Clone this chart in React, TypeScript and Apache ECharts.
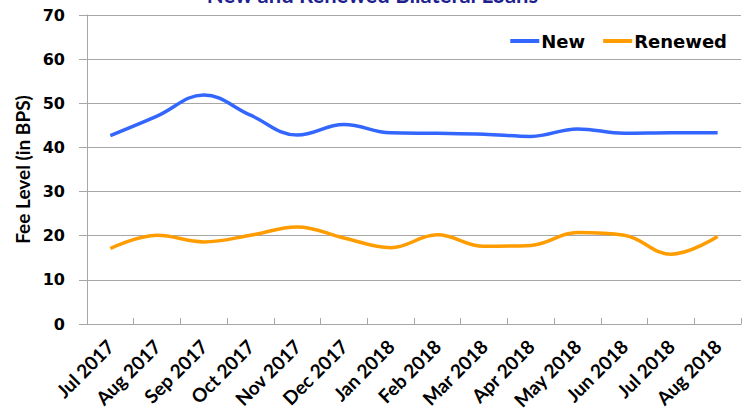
import React, { useEffect, useRef } from "react";
import * as echarts from "echarts";

const categories = [
  "Jul 2017", "Aug 2017", "Sep 2017", "Oct 2017", "Nov 2017", "Dec 2017", "Jan 2018",
  "Feb 2018", "Mar 2018", "Apr 2018", "May 2018", "Jun 2018", "Jul 2018", "Aug 2018",
];
const newFees = [42.7, 47.1, 51.9, 47.3, 42.8, 45.2, 43.3, 43.2, 43.0, 42.5, 44.2, 43.2, 43.3, 43.3];
const renewedFees = [17.1, 20.1, 18.6, 20.1, 22.0, 19.5, 17.3, 20.2, 17.6, 17.8, 20.7, 20.1, 15.8, 19.8];
const titleText = "New and Renewed Bilateral Loans";
const yAxisTitle = "Fee Level (in BPS)";

export default function App() {
  const ref = useRef<HTMLDivElement>(null);
  useEffect(() => {
    if (!ref.current) return;
    const chart = echarts.init(ref.current, null, { renderer: "svg" });
    chart.setOption({
      animation: false,
      backgroundColor: "#ffffff",
      title: {
        text: titleText,
        left: "center",
        top: -22,
        textStyle: { color: "#1f1f8f", fontSize: 22, fontWeight: "bold", fontFamily: "Lato" },
      },
      legend: {
        data: ["New", "Renewed"],
        right: 13,
        top: 27,
        itemWidth: 29,
        itemHeight: 4,
        itemGap: 18,
        icon: "rect",
        textStyle: { color: "#000", fontSize: 18, fontWeight: "bold", fontFamily: "DejaVu Sans", padding: [0, 0, 0, -3] },
      },
      grid: { left: 87, right: 4, top: 15, bottom: 91, containLabel: false },
      xAxis: {
        type: "category",
        data: categories,
        boundaryGap: true,
        axisLine: { lineStyle: { color: "#a6a6a6", width: 1 } },
        axisTick: { show: true, inside: true, length: 6, lineStyle: { color: "#a6a6a6" } },
        axisLabel: {
          rotate: 45,
          interval: 0,
          color: "#000",
          fontSize: 19,
          fontWeight: "bold",
          fontFamily: "Lato",
          margin: 19,
        },
      },
      yAxis: {
        type: "value",
        min: 0,
        max: 70,
        interval: 10,
        name: yAxisTitle,
        nameLocation: "middle",
        nameGap: 55,
        nameTextStyle: { color: "#000", fontSize: 19, fontWeight: "bold", fontFamily: "Lato" },
        axisLine: { show: true, lineStyle: { color: "#a6a6a6" } },
        axisTick: { show: true, length: 8, lineStyle: { color: "#a6a6a6" } },
        axisLabel: {
          color: "#000",
          fontSize: 16,
          fontWeight: "bold",
          fontFamily: "DejaVu Sans",
          margin: 22,
        },
        splitLine: { lineStyle: { color: "#a6a6a6", width: 1 } },
      },
      series: [
        {
          name: "New",
          type: "line",
          data: newFees,
          smooth: 0.4,
          symbol: "none",
          lineStyle: { color: "#3366ff", width: 3.5 },
          itemStyle: { color: "#3366ff" },
        },
        {
          name: "Renewed",
          type: "line",
          data: renewedFees,
          smooth: 0.4,
          symbol: "none",
          lineStyle: { color: "#ff9c00", width: 3.5 },
          itemStyle: { color: "#ff9c00" },
        },
      ],
    });
    return () => chart.dispose();
  }, []);
  return <div ref={ref} style={{ width: 745, height: 415, position: "absolute", left: 0, top: 0 }} />;
}
